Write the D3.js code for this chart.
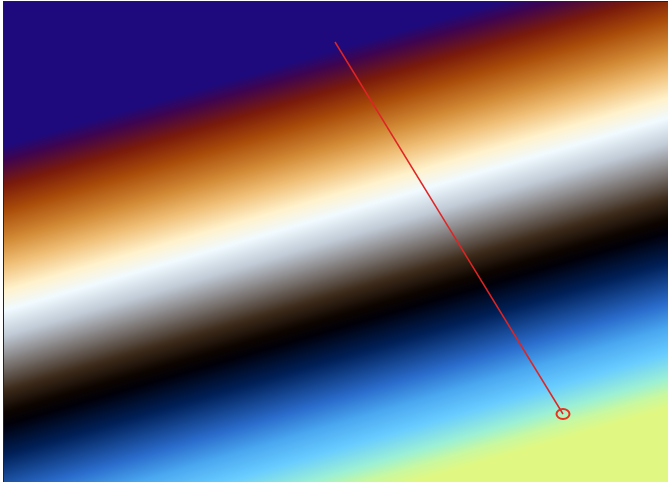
<!DOCTYPE html>
<html>
<head>
<meta charset="utf-8">
<script src="https://cdn.jsdelivr.net/npm/d3@7"></script>
<style>
  html, body { margin: 0; padding: 0; background: #fff; }
  #chart { position: relative; width: 668px; height: 482px; overflow: hidden; }
  #chart canvas, #chart svg { position: absolute; left: 0; top: 0; }
</style>
</head>
<body>
<div id="chart"></div>
<script>
// field level (t = y + tilt * x) where each colour stop sits
var stopLevels = [1.45, 1.60, 1.85, 2.10, 2.40, 2.65, 2.90, 3.10, 3.35, 3.60,
                  3.90, 4.12, 4.25, 4.55, 4.95, 5.20, 5.45, 5.70, 5.85, 6.00];
var stopColors = ["#1e0a7c", "#3e0450", "#7a1a0a", "#a84a08", "#d28a35", "#f0c078",
                  "#fff2cc", "#f0faff", "#c2ccd8", "#868282", "#3c2a1a", "#0c0400",
                  "#00000a", "#002058", "#2a6ccc", "#4aa8f0", "#68ccff", "#9cf0d4",
                  "#c8f8a0", "#e0f882"];
var tilt = 0.29;

// path drawn on top: start and end point
var pathX = [3.32, 5.60];
var pathY = [0.41, 4.13];

var W = 668, H = 482;
var margin = {left: 3, top: 1};

var x = d3.scaleLinear().domain([0, 6.65]).range([margin.left, margin.left + 665]);
var y = d3.scaleLinear().domain([0, 4.81]).range([margin.top, margin.top + 481]);
var color = d3.scaleLinear().domain(stopLevels).range(stopColors).clamp(true);

// background field on a canvas
var canvas = d3.select("#chart").append("canvas")
    .attr("width", W).attr("height", H).node();
var ctx = canvas.getContext("2d");
var img = ctx.createImageData(W, H);
for (var py = 0; py < H; py++) {
    for (var px = 0; px < W; px++) {
        var t = y.invert(py + 0.5) + tilt * x.invert(px + 0.5);
        var c = d3.rgb(color(t));
        var i = (py * W + px) * 4;
        img.data[i] = c.r; img.data[i + 1] = c.g; img.data[i + 2] = c.b; img.data[i + 3] = 255;
    }
}
ctx.putImageData(img, 0, 0);
// white strip left of the frame
ctx.fillStyle = "#fff";
ctx.fillRect(0, 0, margin.left, H);
ctx.fillRect(0, 0, W, margin.top);

var svg = d3.select("#chart").append("svg")
    .attr("width", W).attr("height", H);

// frame
svg.append("rect")
    .attr("x", margin.left + 0.5).attr("y", margin.top + 0.5)
    .attr("width", W + 10).attr("height", H + 10)
    .attr("fill", "none").attr("stroke", "#222").attr("stroke-width", 1);

// the red path
svg.append("line")
    .attr("x1", x(pathX[0])).attr("y1", y(pathY[0]))
    .attr("x2", x(pathX[1])).attr("y2", y(pathY[1]))
    .attr("stroke", "#e02424").attr("stroke-width", 1.5);

svg.append("ellipse")
    .attr("cx", x(pathX[1])).attr("cy", y(pathY[1]))
    .attr("rx", 6.5).attr("ry", 5)
    .attr("fill", "none").attr("stroke", "#e8321e").attr("stroke-width", 2);
</script>
</body>
</html>
